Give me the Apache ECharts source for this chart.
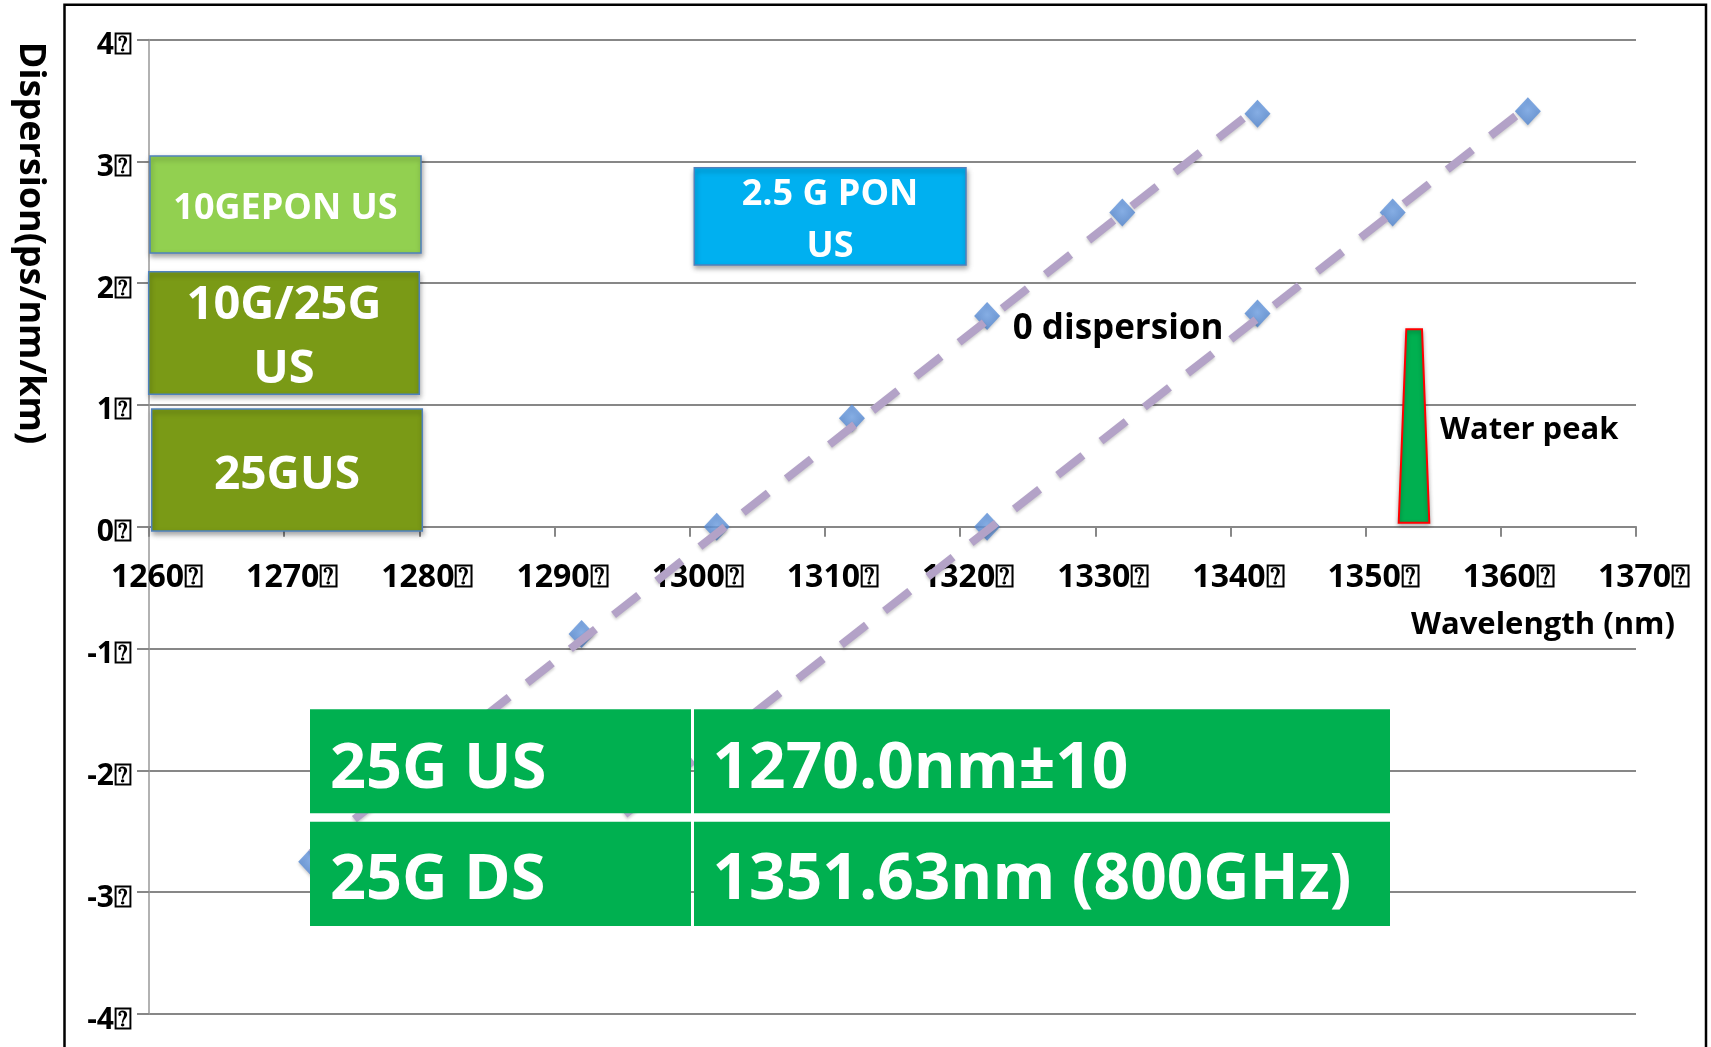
<!DOCTYPE html>
<html><head><meta charset="utf-8">
<script src="https://cdn.jsdelivr.net/npm/echarts@6/dist/echarts.min.js"></script>
<style>html,body{margin:0;padding:0;background:#fff;}#c{width:1711px;height:1047px;}</style>
</head><body><div id="c"></div>
<script>
// ---- data ----
const xTickValues = [1260,1270,1280,1290,1300,1310,1320,1330,1340,1350,1360,1370];
const yTickValues = [-4,-3,-2,-1,0,1,2,3,4];
const tickSuffix = '\u2370';
const fiberA_x = [1272,1282,1292,1302,1312,1322,1332,1342];
const fiberA_y = [-2.75,-1.8,-0.88,0,0.89,1.73,2.58,3.39];
const fiberB_x = [1322,1342,1352,1362];
const fiberB_y = [0,1.75,2.58,3.41];
const trendA_x = [1272,1341.6];
const trendA_y = [-2.68,3.41];
const trendB_x = [1292,1362];
const trendB_y = [-2.64,3.45];
const tableRows = [['25G US','1270.0nm\u00b110'],['25G DS','1351.63nm (800GHz)']];

const FF = '"Open Sans", Lato, sans-serif';
const pair = (xs, ys) => xs.map((x,i)=>[x, ys[i]]);
const chart = echarts.init(document.getElementById('c'), null, {renderer:'canvas'});

function txt(text, x, y, size, color, align, extra) {
  return Object.assign({
    type:'text', x:x, y:y, z:100,
    style:{text:text, fill:color, font:'bold '+size+'px '+FF,
      align:align||'center', verticalAlign:'middle',
      textAlign:align||'center', textVerticalAlign:'middle'}
  }, extra||{});
}
function box(x,y,w,h,fill,stroke,shadow){
  return {type:'rect', z:99, shape:{x:x,y:y,width:w,height:h},
    style:{fill:fill, stroke:stroke||null, lineWidth:stroke?1.5:0,
      shadowBlur:shadow?5:0, shadowOffsetY:shadow?3:0, shadowOffsetX:shadow?1:0, shadowColor:'rgba(0,0,0,0.35)'}};
}

const graphics = [
  {type:'rect', z:100, shape:{x:64.5,y:4.7,width:1641.5,height:1080}, style:{fill:null, stroke:'#000', lineWidth:2.5}},
  txt('Dispersion(ps/nm/km)', 30, 243, 36, '#000', 'center', {rotation:-Math.PI/2}),
  txt('Wavelength (nm)', 1411, 625, 31, '#000', 'left'),
  box(150,156,271,97,'#92D050','#4F81BD',true),
  txt('10GEPON US', 285.5, 208.5, 36, '#fff'),
  box(148.7,271.7,270.6,122.5,'#7A9A16','#4F81BD',true),
  txt('10G/25G', 284, 306, 47, '#fff'),
  txt('US', 284, 370, 47, '#fff'),
  box(151.7,409,270.6,122,'#7A9A16','#4F81BD',true),
  txt('25GUS', 287, 476, 46, '#fff'),
  box(694.3,167.7,271.7,97.3,'#00B0F0','#4F81BD',true),
  txt('2.5 G PON', 830, 195, 36, '#fff'),
  txt('US', 830, 246.5, 36, '#fff'),
  txt('0 dispersion', 1012.7, 329, 35, '#000', 'left'),
  {type:'polygon', z:99, shape:{points:[[1398.7,522.7],[1406.3,329.3],[1422,329.3],[1429.3,522.7]]},
    style:{fill:'#00B050', stroke:'#FF0000', lineWidth:2, shadowBlur:4, shadowOffsetY:2, shadowColor:'rgba(0,0,0,0.3)'}},
  txt('Water peak', 1440, 430.5, 31, '#000', 'left'),
  box(310,709.3,381,104,'#00B050'),
  box(694,709.3,696,104,'#00B050'),
  box(310,821.7,381,104.3,'#00B050'),
  box(694,821.7,696,104.3,'#00B050'),
  txt(tableRows[0][0], 330, 770, 63, '#fff', 'left'),
  txt(tableRows[0][1], 712.5, 770, 64, '#fff', 'left'),
  txt(tableRows[1][0], 330, 881, 63, '#fff', 'left'),
  txt(tableRows[1][1], 712.5, 881, 64, '#fff', 'left')
];

const trendStyle = {color:'#B3A2C7', width:8, type:[32,23], cap:'butt',
  shadowBlur:3, shadowOffsetY:2, shadowColor:'rgba(0,0,0,0.2)'};
const markerStyle = {
  color:{type:'radial', x:0.5, y:0.45, r:0.6, colorStops:[{offset:0,color:'#74A6EA'},{offset:1,color:'#4A7FCB'}]},
  shadowBlur:3, shadowOffsetY:2, shadowColor:'rgba(0,0,0,0.25)'};

const GRID_TOP = 39.5, GRID_BOTTOM = 33, H = 1047;
const plotH = H - GRID_TOP - GRID_BOTTOM;
// x axis crosses at y = 0 : shift from bottom edge through the y scale
const zeroShift = -plotH * (0 - yTickValues[0]) / (yTickValues[yTickValues.length-1] - yTickValues[0]);

chart.setOption({
  backgroundColor:'#fff',
  animation:false,
  grid:{left:149, right:75, top:GRID_TOP, bottom:GRID_BOTTOM, containLabel:false},
  xAxis:{type:'value', position:'bottom', offset:zeroShift,
    min:xTickValues[0], max:xTickValues[xTickValues.length-1], interval:10,
    axisLine:{onZero:false, lineStyle:{color:'#878787', width:2}},
    axisTick:{show:true, length:10, lineStyle:{color:'#878787', width:2}},
    axisLabel:{formatter:v=>v+tickSuffix, fontSize:32, fontWeight:'bold', fontFamily:FF, color:'#000', margin:35, padding:[0,0,0,16], showMinLabel:true, showMaxLabel:true},
    splitLine:{show:false}},
  yAxis:{type:'value', min:yTickValues[0], max:yTickValues[yTickValues.length-1], interval:1,
    axisLine:{show:true, lineStyle:{color:'#999', width:1.5}},
    axisTick:{show:true, length:12, lineStyle:{color:'#878787', width:2}},
    axisLabel:{formatter:v=>v+tickSuffix, fontSize:30, fontWeight:'bold', fontFamily:FF, color:'#000', margin:17,
      verticalAlign:'top', lineHeight:12},
    splitLine:{show:true, lineStyle:{color:'#878787', width:2}}},
  series:[
    {type:'scatter', data:pair(fiberA_x,fiberA_y), symbol:'diamond', symbolSize:[26,28], itemStyle:markerStyle, z:2},
    {type:'scatter', data:pair(fiberB_x,fiberB_y), symbol:'diamond', symbolSize:[26,28], itemStyle:markerStyle, z:2},
    {type:'line', data:pair(trendA_x,trendA_y), showSymbol:false, symbol:'none', lineStyle:trendStyle, z:3},
    {type:'line', data:pair(trendB_x,trendB_y), showSymbol:false, symbol:'none', lineStyle:trendStyle, z:3}
  ],
  graphic:{elements:graphics}
});
</script></body></html>
